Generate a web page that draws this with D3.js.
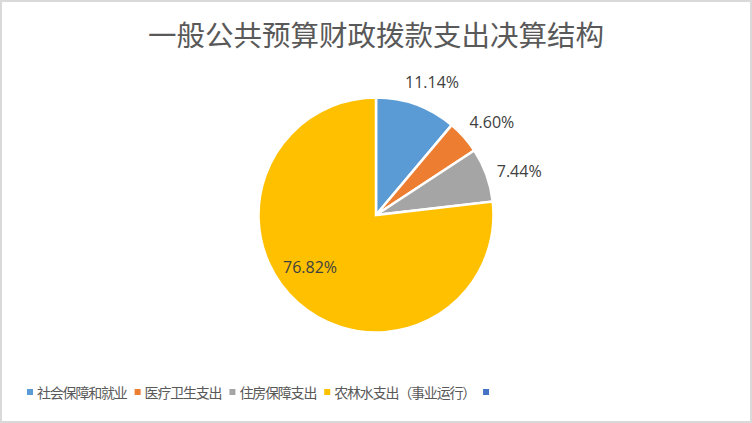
<!DOCTYPE html>
<html><head><meta charset="utf-8">
<script src="https://cdn.jsdelivr.net/npm/d3@7"></script>
<style>html,body{margin:0;padding:0;background:#fff;}svg{display:block;}</style>
</head><body>
<svg id="c" width="752" height="423"></svg>
<script>
const title = "一般公共预算财政拨款支出决算结构";
const categories = ["社会保障和就业", "医疗卫生支出", "住房保障支出", "农林水支出（事业运行）", ""];
const values = [11.14, 4.60, 7.44, 76.82, 0];
const colors = ["#5B9BD5", "#ED7D31", "#A5A5A5", "#FFC000", "#4472C4"];

const W = 752, H = 423;
const svg = d3.select("#c");
svg.append("rect").attr("x", 1).attr("y", 1).attr("width", W - 2).attr("height", H - 2)
  .attr("fill", "#fff").attr("stroke", "#d9d9d9").attr("stroke-width", 2);

svg.append("text").attr("x", 376).attr("y", 33).attr("text-anchor", "middle")
  .attr("dominant-baseline", "central")
  .style("font-family", "'Noto Sans CJK SC'").style("font-size", "28.5px").attr("fill", "#595959")
  .text(title);

const cx = 376, cy = 215, r = 117.5;
const data = categories.map((c, i) => ({ c, v: values[i], col: colors[i] }));
const pie = d3.pie().value(d => d.v).sort(null);
const arcs = pie(data);
const arc = d3.arc().innerRadius(0).outerRadius(r);
const g = svg.append("g").attr("transform", `translate(${cx},${cy})`);
g.selectAll("path").data(arcs.filter(a => a.data.v > 0)).join("path")
  .attr("d", arc).attr("fill", a => a.data.col)
  .attr("stroke", "#fff").attr("stroke-width", 2.5).attr("stroke-linejoin", "miter");

// labels
const fs = 16;
g.selectAll("text.lbl").data(arcs.filter(a => a.data.v > 0)).join("text")
  .attr("class", "lbl")
  .style("font-family", "'Open Sans'").style("font-size", fs + "px").attr("fill", "#404040")
  .attr("text-anchor", "middle").attr("dominant-baseline", "central")
  .text(a => a.data.v.toFixed(2) + "%")
  .each(function (a) {
    const w = this.getComputedTextLength();
    let x, y;
    if (a.data.v > 50) {
      const mid = (a.startAngle + a.endAngle) / 2 + 0.175;
      const rr = r * 0.715;
      x = rr * Math.sin(mid); y = -rr * Math.cos(mid);
    } else {
      const mid = (a.startAngle + a.endAngle) / 2 + 0.05;
      const s = Math.sin(mid), c = Math.cos(mid);
      const d = r + 8.5 + Math.abs(s) * w / 2 + Math.abs(c) * fs / 2;
      x = d * s; y = -d * c;
    }
    d3.select(this).attr("x", x).attr("y", y);
  });

// legend
const lg = svg.append("g");
let lx = 27;
const ly = 392;
data.forEach(d => {
  lg.append("rect").attr("x", lx).attr("y", ly - 3).attr("width", 6).attr("height", 6).attr("fill", d.col);
  const t = lg.append("text").attr("x", lx + 10).attr("y", ly).attr("dominant-baseline", "central")
    .style("font-family", "'Noto Sans CJK SC'").style("font-size", "14px").style("letter-spacing", "-1.2px")
    .attr("fill", "#595959")
    .text(d.c);
  const tw = d.c ? t.node().getComputedTextLength() : 0;
  lx = lx + 10 + tw + 8;
});
</script>
</body></html>
